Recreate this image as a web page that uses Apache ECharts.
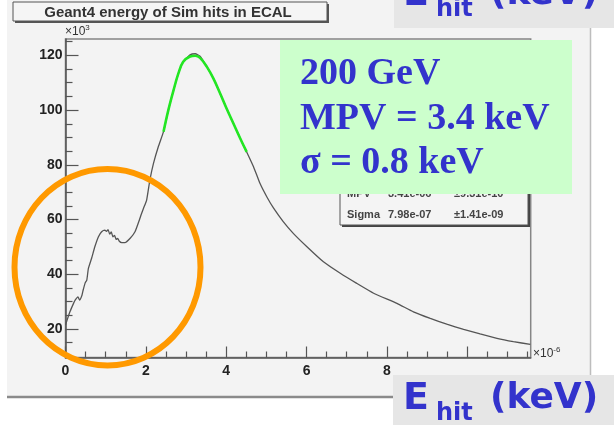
<!DOCTYPE html>
<html>
<head>
<meta charset="utf-8">
<script src="https://cdn.jsdelivr.net/npm/echarts@6.0.0/dist/echarts.min.js"></script>
<style>
  html, body { margin: 0; padding: 0; background: #ffffff; }
  #chart { width: 614px; height: 425px; }
</style>
</head>
<body>
<div id="chart"></div>
<script>
// Energy deposit per simulated hit (units of 1e-6 GeV) and entries (units of 1e3)
const hitEnergy = [0.0, 0.11, 0.2, 0.24, 0.31, 0.35, 0.41, 0.44, 0.49, 0.53, 0.57, 0.65, 0.73, 0.82, 0.9, 0.98,
  1.02, 1.06, 1.10, 1.14, 1.18, 1.22, 1.26, 1.30, 1.34, 1.40, 1.48, 1.61, 1.73, 1.81, 1.88, 1.94, 2.02, 2.1,
  2.19, 2.31, 2.44, 2.56, 2.69, 2.81, 2.93, 3.1, 3.23, 3.35, 3.52, 3.68, 3.85, 4.01, 4.18, 4.35, 4.51, 4.68,
  4.84, 5.01, 5.18, 5.42, 5.67, 6.01, 6.42, 6.84, 7.25, 7.67, 8.25, 8.66, 9.08, 9.49, 9.91, 10.32, 10.74,
  11.15, 11.57];
const hitEntries = [21.4, 26.2, 29.3, 30.5, 31.7, 30.5, 32.3, 34.2, 36.8, 37.8, 42.1, 45.8, 50, 53.7, 55.5, 56.1,
  55.6, 56.3, 54.6, 55.4, 53.6, 54.2, 52.7, 53.1, 52.0, 51.5, 51.5, 53.1, 55.5, 58.6, 61.6, 64, 67.1, 74.4,
  80.5, 86.6, 92.1, 100, 107.3, 113.4, 117.7, 120.2, 120.6, 119.7, 115.8, 111.6, 106.1, 100.6, 95.1, 89.6, 84.7, 79.3,
  73.2, 68.3, 64.1, 59.2, 54.9, 50, 44.5, 40.3, 36.6, 33, 29.3, 26.2, 23.8, 21.7, 19.8, 18.1, 16.5,
  15.3, 14.3];

// Landau fit curve over the peak region
const fitEnergy = [2.44, 2.56, 2.69, 2.81, 2.93, 3.1, 3.23, 3.35, 3.52, 3.68, 3.85, 4.01, 4.18, 4.35, 4.51];
const fitEntries = [92.1, 100, 107.3, 113.4, 117.7, 119.6, 119.9, 119.1, 115.8, 111.6, 106.1, 100.6, 95.1, 89.6, 84.7];

// Axis tick values and tick labels
const xMajorTicks = [0, 2, 4, 6, 8, 10];
const xTickLabels = [0, 2, 4, 6, 8];
const xMinorTicks = [0.5, 1, 1.5, 2.5, 3, 3.5, 4.5, 5, 5.5, 6.5, 7, 7.5, 8.5, 9, 9.5, 10.5, 11, 11.5];
const yMajorTicks = [20, 40, 60, 80, 100, 120];
const yTickLabels = [20, 40, 60, 80, 100, 120];
const yMinorTicks = [10, 15, 25, 30, 35, 45, 50, 55, 65, 70, 75, 85, 90, 95, 105, 110, 115, 125];

// Text content
const histTitle = 'Geant4 energy of Sim hits in ECAL';
const statRows = [['MPV', '3.41e-06', '\u00b19.31e-10'], ['Sigma', '7.98e-07', '\u00b11.41e-09']];
const noteLines = ['200 GeV', 'MPV = 3.4 keV', '\u03c3 = 0.8 keV'];

const X_MIN = 0, X_MAX = 11.58, Y_MIN = 9.5, Y_MAX = 126;

const chart = echarts.init(document.getElementById('chart'), null, { renderer: 'canvas' });

const axisColor = '#555555';
const labelFont = { fontFamily: 'Liberation Sans, Arial, sans-serif', fontSize: 14, fontWeight: 'bold', color: '#222222' };

function xAxisBase() {
  return { type: 'value', min: X_MIN, max: X_MAX, position: 'bottom', splitLine: { show: false } };
}
function yAxisBase() {
  return { type: 'value', min: Y_MIN, max: Y_MAX, position: 'left', splitLine: { show: false } };
}

function ehitLabel(dy, boxY, boxH, boxX) {
  const font = 'Comic Sans MS, DejaVu Sans, sans-serif';
  return {
    type: 'group', z: 120, children: [
      { type: 'rect', shape: { x: boxX, y: boxY, width: 614 - boxX, height: boxH }, style: { fill: '#e6e6e6' }, z: 120 },
      { type: 'text', x: 403, y: 399 + dy, z: 121, style: { text: 'E', font: 'bold 38px ' + font, fill: '#3333cc', verticalAlign: 'middle' } },
      { type: 'text', x: 436, y: 414 + dy, z: 121, style: { text: 'hit', font: 'bold 24px ' + font, fill: '#3333cc', verticalAlign: 'middle' } },
      { type: 'text', x: 490, y: 399 + dy, z: 121, style: { text: '(keV)', font: 'bold 36px ' + font, fill: '#3333cc', verticalAlign: 'middle' } }
    ]
  };
}

const statsChildren = [
  { type: 'rect', shape: { x: 342, y: 150, width: 188, height: 77 }, style: { fill: '#444444' }, z: 50 },
  { type: 'rect', shape: { x: 340, y: 148, width: 188, height: 77 }, style: { fill: '#f4f4f4', stroke: '#555555', lineWidth: 1 }, z: 51 }
];
statRows.forEach(function (row, i) {
  const y = 194 + i * 20.5;
  const xs = [347, 388, 454];
  row.forEach(function (cell, j) {
    statsChildren.push({ type: 'text', x: xs[j], y: y, z: 52,
      style: { text: cell, font: 'bold 11px Liberation Sans, Arial, sans-serif', fill: '#444444', verticalAlign: 'middle' } });
  });
});

const noteChildren = [
  { type: 'rect', shape: { x: 280, y: 40, width: 292, height: 154 }, style: { fill: '#ccffcc' }, z: 60 }
];
noteLines.forEach(function (line, i) {
  noteChildren.push({ type: 'text', x: 300, y: 74 + i * 44.7, z: 61,
    style: { text: line, font: 'bold 38px Liberation Serif, Times New Roman, serif', fill: '#3333cc', verticalAlign: 'middle' } });
});

const option = {
  backgroundColor: '#ffffff',
  animation: false,
  grid: {
    left: 65.5, top: 39, width: 465.2, height: 318.5,
    show: true, backgroundColor: 'transparent', borderColor: '#858585', borderWidth: 1.5, containLabel: false
  },
  xAxis: [
    Object.assign(xAxisBase(), {
      axisLine: { show: true, onZero: false, lineStyle: { color: axisColor, width: 1.5 } },
      axisTick: { show: true, inside: true, length: 11, customValues: xMajorTicks, lineStyle: { color: axisColor, width: 1.2 } },
      axisLabel: Object.assign({ show: true, margin: 7, customValues: xTickLabels }, labelFont)
    }),
    Object.assign(xAxisBase(), {
      axisLine: { show: false, onZero: false },
      axisTick: { show: true, inside: true, length: 6, customValues: xMinorTicks, lineStyle: { color: axisColor, width: 1.2 } },
      axisLabel: { show: false }
    })
  ],
  yAxis: [
    Object.assign(yAxisBase(), {
      axisLine: { show: true, onZero: false, lineStyle: { color: axisColor, width: 1.5 } },
      axisTick: { show: true, inside: true, length: 13, customValues: yMajorTicks, lineStyle: { color: axisColor, width: 1.2 } },
      axisLabel: Object.assign({ show: true, margin: 3, customValues: yTickLabels }, labelFont)
    }),
    Object.assign(yAxisBase(), {
      axisLine: { show: false, onZero: false },
      axisTick: { show: true, inside: true, length: 7, customValues: yMinorTicks, lineStyle: { color: axisColor, width: 1.2 } },
      axisLabel: { show: false }
    })
  ],
  series: [
    {
      type: 'line', xAxisIndex: 0, yAxisIndex: 0, showSymbol: false, smooth: 0.15, z: 3,
      lineStyle: { color: '#555555', width: 1.3 },
      data: hitEnergy.map(function (e, i) { return [e, hitEntries[i]]; })
    },
    {
      type: 'line', xAxisIndex: 0, yAxisIndex: 0, showSymbol: false, smooth: 0.4, z: 4,
      lineStyle: { color: '#22e622', width: 2.6 },
      data: fitEnergy.map(function (e, i) { return [e, fitEntries[i]]; })
    }
  ],
  graphic: [
    // pad background and borders
    { type: 'rect', z: -5, shape: { x: 7, y: -2, width: 584, height: 399 }, style: { fill: '#f3f3f3' } },
    { type: 'line', z: -4, shape: { x1: 590.5, y1: 0, x2: 590.5, y2: 397 }, style: { stroke: '#bdbdbd', lineWidth: 1.5 } },
    { type: 'line', z: -4, shape: { x1: 7, y1: 397, x2: 591, y2: 397 }, style: { stroke: '#8a8a8a', lineWidth: 2.5 } },
    // histogram title box
    { type: 'rect', z: 40, shape: { x: 15, y: 4, width: 314, height: 19 }, style: { fill: '#555555' } },
    { type: 'rect', z: 41, shape: { x: 13, y: 2, width: 314, height: 19 }, style: { fill: '#f5f5f5', stroke: '#555555', lineWidth: 1 } },
    { type: 'text', z: 42, x: 168, y: 13, style: { text: histTitle, font: 'bold 15px Liberation Sans, Arial, sans-serif', fill: '#333333', align: 'center', verticalAlign: 'middle' } },
    // axis exponent labels
    { type: 'text', z: 42, x: 65, y: 32, style: { text: '{a|\u00d710}{b|3}', fill: '#333333', verticalAlign: 'middle',
      rich: { a: { fontSize: 12, fontFamily: 'Liberation Sans, Arial, sans-serif', fill: '#333333' }, b: { fontSize: 8, fontFamily: 'Liberation Sans, Arial, sans-serif', fill: '#333333', padding: [0, 0, 8, 0] } } } },
    { type: 'text', z: 42, x: 533, y: 354, style: { text: '{a|\u00d710}{b|-6}', fill: '#333333', verticalAlign: 'middle',
      rich: { a: { fontSize: 12, fontFamily: 'Liberation Sans, Arial, sans-serif', fill: '#333333' }, b: { fontSize: 8, fontFamily: 'Liberation Sans, Arial, sans-serif', fill: '#333333', padding: [0, 0, 8, 0] } } } },
    // fit statistics box
    { type: 'group', z: 50, children: statsChildren },
    // fit summary note
    { type: 'group', z: 60, children: noteChildren },
    // highlight around the low-energy shoulder
    { type: 'ellipse', z: 80, shape: { cx: 107.5, cy: 267.2, rx: 93, ry: 98.2 }, style: { fill: 'none', stroke: '#ff9900', lineWidth: 6 } },
    // axis title badges
    ehitLabel(0, 375, 50, 393),
    ehitLabel(-404, -30, 58, 394)
  ]
};

chart.setOption(option);
</script>
</body>
</html>
